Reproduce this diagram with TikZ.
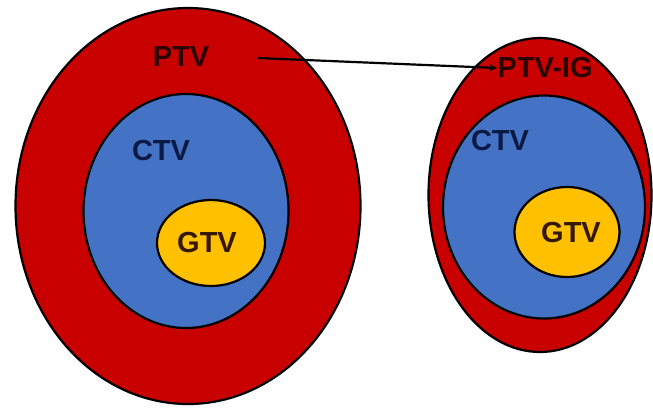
\documentclass[tikz,border=0pt]{standalone}
\usepackage{fontspec}
\setmainfont{Liberation Sans}
\usetikzlibrary{shapes.geometric,arrows.meta}
\definecolor{ptvred}{HTML}{C80000}
\definecolor{ctvblue}{HTML}{4472C4}
\definecolor{gtvyellow}{HTML}{FFC000}
\definecolor{ptvtext}{HTML}{2A0000}
\definecolor{ctvtext}{HTML}{0B1A45}
\definecolor{gtvtext}{HTML}{351800}
\tikzset{
  region/.style={ellipse, draw=black, line width=2.2pt, inner sep=0pt},
  lbl/.style={font=\bfseries\fontsize{29}{29}\selectfont, inner sep=0pt},
  pointer/.style={line width=2.2pt, -{Stealth[length=8pt,width=7pt]}}
}
\begin{document}
\begin{tikzpicture}[x=1pt,y=-1pt]
\useasboundingbox (0,0) rectangle (653,408);
% left volumes
\node[region, fill=ptvred, minimum width=345pt, minimum height=396pt] (ptvL) at (188,206) {};
\node[region, fill=ctvblue, minimum width=205pt, minimum height=234pt] (ctvL) at (186,211) {};
\node[region, fill=gtvyellow, minimum width=108pt, minimum height=86pt] (gtvL) at (211,243) {};
% right volumes
\node[region, fill=ptvred, minimum width=223pt, minimum height=314pt] (ptvR) at (540,195) {};
\node[region, fill=ctvblue, minimum width=202pt, minimum height=223pt] (ctvR) at (544,207) {};
\node[region, fill=gtvyellow, minimum width=105pt, minimum height=90pt] (gtvR) at (567,232) {};
% labels
\node[lbl, text=ptvtext] (tPTV) at (181,57) {PTV};
\node[lbl, text=ctvtext] (tCTVL) at (161,151) {CTV};
\node[lbl, text=gtvtext] (tGTVL) at (207,243) {GTV};
\node[lbl, text=ptvtext] (tPTVIG) at (545,68) {PTV-IG};
\node[lbl, text=ctvtext] (tCTVR) at (500,141) {CTV};
\node[lbl, text=gtvtext] (tGTVR) at (571,233) {GTV};
% pointer
\coordinate (pStart) at (258,58);
\draw[pointer] (pStart) -- (tPTVIG.west);
\end{tikzpicture}
\end{document}
